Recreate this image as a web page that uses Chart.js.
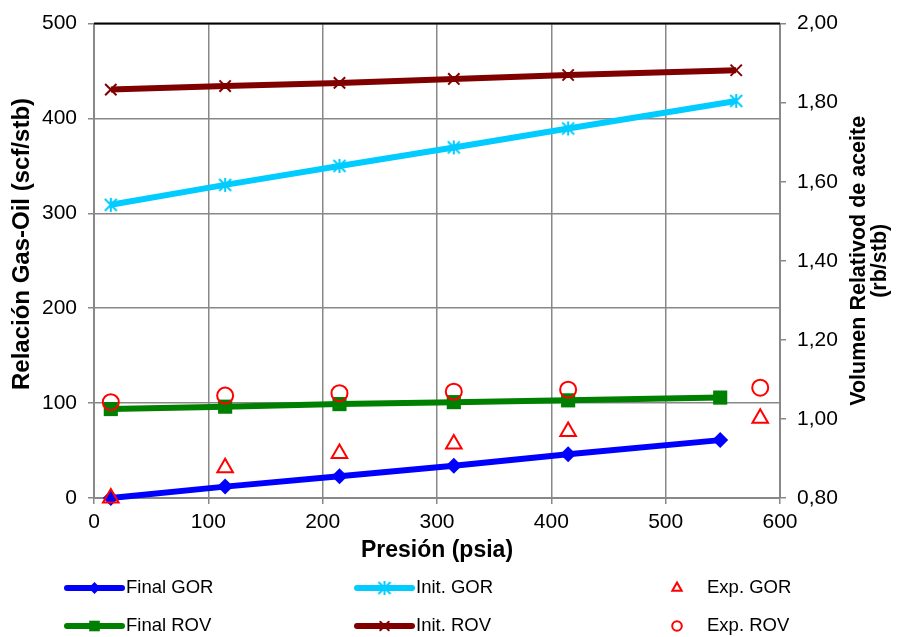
<!DOCTYPE html>
<html>
<head>
<meta charset="utf-8">
<script src="https://cdn.jsdelivr.net/npm/chart.js@4.4.1/dist/chart.umd.min.js"></script>
<style>
  html, body { margin: 0; padding: 0; background: #fff; }
  #wrap { width: 897px; height: 637px; position: relative; }
</style>
</head>
<body>
<div id="wrap"><canvas id="c" width="897" height="637"></canvas></div>
<script>
// Pressure (psia) for each series
const pressureFinal = [14.7, 114.7, 214.7, 314.7, 414.7, 547.7];
const pressureInit  = [14.7, 114.7, 214.7, 314.7, 414.7, 561.7];
const pressureExp   = [14.7, 114.7, 214.7, 314.7, 414.7, 582.7];

// Gas-oil ratio (scf/stb), left axis
const finalGOR = [0, 12, 23, 34, 46, 61];
const initGOR  = [309, 330, 350, 369.5, 389.5, 418.5];
const expGOR   = [0, 32, 47, 57, 70, 84];

// Relative oil volume (rb/stb), right axis
const finalROV = [1.025, 1.031, 1.0375, 1.0425, 1.047, 1.054];
const initROV  = [1.833, 1.842, 1.850, 1.860, 1.870, 1.882];
const expROV   = [1.0425, 1.059, 1.065, 1.069, 1.074, 1.079];

const seriesNames = ['Final GOR', 'Init. GOR', 'Exp. GOR', 'Final ROV', 'Init. ROV', 'Exp. ROV'];

const FONT = "'Liberation Sans', Arial, sans-serif";

function pts(xs, ys) { return xs.map((x, i) => ({ x: x, y: ys[i] })); }

// Asterisk marker: an X with a vertical stroke
function asterisk(color, s) {
  const c = document.createElement('canvas');
  c.width = s; c.height = s;
  const g = c.getContext('2d');
  const m = s / 2, e = s - 2;
  g.strokeStyle = color; g.lineWidth = 2;
  g.beginPath();
  g.moveTo(2, 2); g.lineTo(e, e);
  g.moveTo(e, 2); g.lineTo(2, e);
  g.moveTo(m, 1); g.lineTo(m, s - 1);
  g.stroke();
  return c;
}
const starImg = asterisk('#00CCFF', 16);

// Measured points (order 0) are drawn on top of the model lines (order 1)
const datasets = [
  { label: seriesNames[0], data: pts(pressureFinal, finalGOR), yAxisID: 'y', order: 1,
    showLine: true, borderColor: '#0000FF', backgroundColor: '#0000FF', borderWidth: 6,
    pointStyle: 'rectRot', pointRadius: 8, pointBorderWidth: 0 },
  { label: seriesNames[1], data: pts(pressureInit, initGOR), yAxisID: 'y', order: 1,
    showLine: true, borderColor: '#00CCFF', backgroundColor: '#00CCFF', borderWidth: 6,
    pointStyle: starImg, pointRadius: 8 },
  { label: seriesNames[2], data: pts(pressureExp, expGOR), yAxisID: 'y', order: 0,
    showLine: false, borderColor: '#FF0000', backgroundColor: 'rgba(0,0,0,0)',
    pointStyle: 'triangle', pointRadius: 9, pointBorderWidth: 2 },
  { label: seriesNames[3], data: pts(pressureFinal, finalROV), yAxisID: 'y2', order: 1,
    showLine: true, borderColor: '#008000', backgroundColor: '#008000', borderWidth: 6,
    pointStyle: 'rect', pointRadius: 10, pointBorderWidth: 0 },
  { label: seriesNames[4], data: pts(pressureInit, initROV), yAxisID: 'y2', order: 1,
    showLine: true, borderColor: '#800000', backgroundColor: '#800000', borderWidth: 6,
    pointStyle: 'crossRot', pointRadius: 8, pointBorderWidth: 2 },
  { label: seriesNames[5], data: pts(pressureExp, expROV), yAxisID: 'y2', order: 0,
    showLine: false, borderColor: '#FF0000', backgroundColor: 'rgba(0,0,0,0)',
    pointStyle: 'circle', pointRadius: 8, pointBorderWidth: 2 }
];
datasets.forEach(d => { d.clip = false; d.pointHoverRadius = d.pointRadius; });

const GRID = '#888888';
const tickFont = { family: FONT, size: 21 };

// Axis titles and the black top edge of the plot area
const decorPlugin = {
  id: 'decor',
  afterDraw(chart) {
    const ctx = chart.ctx, a = chart.chartArea;
    ctx.save();
    ctx.strokeStyle = '#000'; ctx.lineWidth = 2;
    ctx.beginPath(); ctx.moveTo(a.left, a.top); ctx.lineTo(a.right, a.top); ctx.stroke();

    ctx.fillStyle = '#000';
    ctx.textAlign = 'center'; ctx.textBaseline = 'middle';
    ctx.font = "bold 23px " + FONT;
    ctx.fillText('Presión (psia)', (a.left + a.right) / 2, 551);

    ctx.save();
    ctx.font = "bold 24px " + FONT;
    ctx.translate(22, 244); ctx.rotate(-Math.PI / 2);
    ctx.fillText('Relación Gas-Oil (scf/stb)', 0, 0);
    ctx.restore();

    ctx.save();
    ctx.font = "bold 21.5px " + FONT;
    ctx.translate(859, (a.top + a.bottom) / 2); ctx.rotate(-Math.PI / 2);
    ctx.fillText('Volumen Relativod de aceite', 0, 0);
    ctx.fillText('(rb/stb)', 0, 21);
    ctx.restore();
    ctx.restore();
  }
};

// Three-column legend below the x axis title
const legendPlugin = {
  id: 'gridLegend',
  afterDraw(chart) {
    const ctx = chart.ctx;
    const cols = [{ x0: 67, x1: 122, tx: 126 }, { x0: 357, x1: 412, tx: 416 }, { mx: 677, tx: 707 }];
    const rows = [588, 626];
    ctx.save();
    ctx.font = "18.5px " + FONT;
    ctx.textBaseline = 'middle'; ctx.textAlign = 'left';
    datasets.forEach((d, i) => {
      const col = cols[i % 3], y = rows[Math.floor(i / 3)];
      let mx;
      if (d.showLine) {
        ctx.strokeStyle = d.borderColor; ctx.lineWidth = 6; ctx.lineCap = 'round';
        ctx.beginPath(); ctx.moveTo(col.x0, y); ctx.lineTo(col.x1, y); ctx.stroke();
        mx = (col.x0 + col.x1) / 2;
      } else {
        mx = col.mx;
      }
      ctx.strokeStyle = d.borderColor; ctx.fillStyle = d.backgroundColor;
      ctx.lineWidth = d.pointBorderWidth || 0;
      const r = d.showLine ? d.pointRadius * 0.75 : d.pointRadius * 0.6;
      Chart.helpers.drawPoint(ctx, { pointStyle: d.pointStyle, radius: r, rotation: 0,
        borderWidth: d.pointBorderWidth || 0 }, mx, y);
      ctx.fillStyle = '#000';
      ctx.fillText(d.label, col.tx, y);
    });
    ctx.restore();
  }
};

new Chart(document.getElementById('c'), {
  type: 'scatter',
  data: { datasets: datasets },
  options: {
    responsive: false,
    animation: false,
    events: [],
    layout: { padding: { top: 23, left: 0, right: 0, bottom: 0 } },
    plugins: { legend: { display: false }, tooltip: { enabled: false } },
    scales: {
      x: {
        type: 'linear', min: 0, max: 600,
        ticks: { stepSize: 100, font: tickFont, color: '#000', padding: 6, maxRotation: 0 },
        grid: { color: GRID, lineWidth: 1.5, tickLength: 6 },
        border: { color: GRID, width: 2 },
        afterFit(s) { s.height = 139; }
      },
      y: {
        position: 'left', min: 0, max: 500,
        ticks: { stepSize: 100, font: tickFont, color: '#000', padding: 11 },
        grid: { color: GRID, lineWidth: 1.5, tickLength: 6 },
        border: { color: GRID, width: 2 },
        afterFit(s) { s.width = 94; }
      },
      y2: {
        position: 'right', min: 0.8, max: 2.0,
        ticks: { stepSize: 0.2, font: tickFont, color: '#000', padding: 11,
                 callback: v => v.toFixed(2).replace('.', ',') },
        grid: { drawOnChartArea: false, color: GRID, lineWidth: 1.5, tickLength: 6 },
        border: { color: GRID, width: 2 },
        afterFit(s) { s.width = 117; }
      }
    }
  },
  plugins: [decorPlugin, legendPlugin]
});
</script>
</body>
</html>
